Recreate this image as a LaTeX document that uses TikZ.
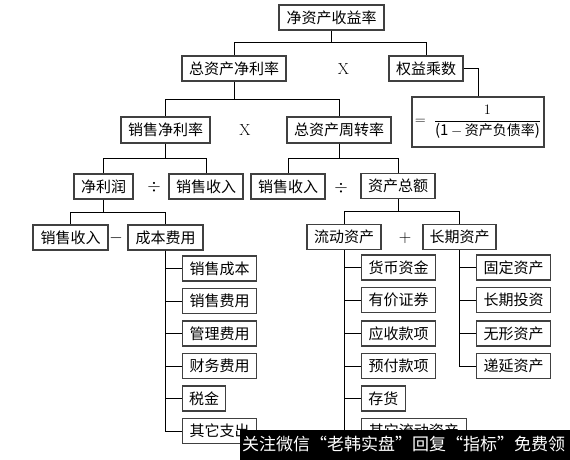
\documentclass[tikz,border=0pt]{standalone}
\usepackage{fontspec}
\usepackage{amsmath}
\newfontfamily\cjk{Noto Sans CJK SC}
\begin{document}
\begin{tikzpicture}[x=1pt,y=-1pt,
  box/.style={draw=black!75,line width=1.2pt,rectangle,minimum height=25pt,inner sep=0pt,fill=white,font=\cjk\fontsize{15}{15}\selectfont},
  conn/.style={draw=black,line width=1pt},
  op/.style={inner sep=0pt,font=\fontsize{16}{16}\selectfont}]
\useasboundingbox (0,0) rectangle (570,460);
\fill[white] (0,0) rectangle (570,460);
% level 0
\node[box,minimum width=105pt] (roe) at (331.5,17.5) {净资产收益率};
% level 1
\node[box,minimum width=104pt] (zczll) at (234,68.5) {总资产净利率};
\node[box,minimum width=74pt] (qycs) at (426,68.5) {权益乘数};
\node[op] (x1) at (343.5,69) {X};
\node[box,minimum width=132pt,minimum height=50pt] (frm) at (478,122)
  {\fontsize{15}{17}\selectfont $=\;\dfrac{1}{\mbox{(1\,$-$\,{\cjk\fontsize{14}{14}\selectfont 资产负债率})}}$};
% level 2
\node[box,minimum width=89pt,minimum height=26pt] (xsjll) at (165.5,130) {销售净利率};
\node[box,minimum width=104pt,minimum height=26pt] (zzczzl) at (339,130) {总资产周转率};
\node[op] (x2) at (245,130) {X};
% level 3
\node[box,minimum width=59pt] (jlr) at (103.5,186.5) {净利润};
\node[box,minimum width=74pt] (xssr1) at (206,186.5) {销售收入};
\node[op] (d1) at (154,187) {$\div$};
\node[box,minimum width=74pt] (xssr2) at (288,186.5) {销售收入};
\node[box,minimum width=74pt] (zcze) at (398,186) {资产总额};
\node[op] (d2) at (341,188) {$\div$};
% level 4
\node[box,minimum width=75pt] (xssr3) at (70.5,237.5) {销售收入};
\node[box,minimum width=75pt] (cbfy) at (165.5,237.5) {成本费用};
\node[op] (m1) at (116,238) {$-$};
\node[box,minimum width=74pt] (ldzc) at (344,237) {流动资产};
\node[box,minimum width=73pt] (cqzc) at (459.5,237) {长期资产};
\node[op] (p1) at (405,238) {$+$};
% cost column
\node[box,minimum width=74pt,anchor=west] (c1) at (182,268.5) {销售成本};
\node[box,minimum width=74pt,anchor=west] (c2) at (182,301) {销售费用};
\node[box,minimum width=74pt,anchor=west] (c3) at (182,333.5) {管理费用};
\node[box,minimum width=74pt,anchor=west] (c4) at (182,366) {财务费用};
\node[box,minimum width=43pt,anchor=west] (c5) at (182,398.5) {税金};
\node[box,minimum width=74pt,anchor=west] (c6) at (182,431) {其它支出};
% current assets column
\node[box,minimum width=74pt,anchor=west] (l1) at (361,267.5) {货币资金};
\node[box,minimum width=74pt,anchor=west] (l2) at (361,300) {有价证券};
\node[box,minimum width=74pt,anchor=west] (l3) at (361,333.5) {应收款项};
\node[box,minimum width=74pt,anchor=west] (l4) at (361,366) {预付款项};
\node[box,minimum width=43.5pt,anchor=west] (l5) at (361,398.5) {存货};
\node[box,minimum width=104.5pt,anchor=west] (l6) at (361,431) {其它流动资产};
% long-term assets column
\node[box,minimum width=74pt,anchor=west] (k1) at (476,267.5) {固定资产};
\node[box,minimum width=74pt,anchor=west] (k2) at (476,300) {长期投资};
\node[box,minimum width=74pt,anchor=west] (k3) at (476,333.5) {无形资产};
\node[box,minimum width=74pt,anchor=west] (k4) at (476,366) {递延资产};
% connectors
\draw[conn] (roe.south) -- (331.5,43) -| (zczll.north);
\draw[conn] (roe.south) -- (331.5,43) -| (qycs.north);
\draw[conn] (qycs.east) -| (frm.north);
\draw[conn] (zczll.south) -- (234,99) -| (xsjll.north);
\draw[conn] (zczll.south) -- (234,99) -| (zzczzl.north);
\draw[conn] (xsjll.south) -- (165.5,158) -| (jlr.north);
\draw[conn] (xsjll.south) -- (165.5,158) -| (xssr1.north);
\draw[conn] (zzczzl.south) -- (339,158) -| (xssr2.north);
\draw[conn] (zzczzl.south) -- (339,158) -| (zcze.north);
\draw[conn] (jlr.south) -- (103.5,212) -| (xssr3.north);
\draw[conn] (jlr.south) -- (103.5,212) -| (cbfy.north);
\draw[conn] (zcze.south) -- (398,211) -| (ldzc.north);
\draw[conn] (zcze.south) -- (398,211) -| (cqzc.north);
\foreach \c in {c1,c2,c3,c4,c5,c6} \draw[conn] (cbfy.south) |- (\c.west);
\foreach \c in {l1,l2,l3,l4,l5,l6} \draw[conn] (ldzc.south) |- (\c.west);
\foreach \c in {k1,k2,k3,k4} \draw[conn] (cqzc.south) |- (\c.west);
% watermark banner
\node[fill=black,minimum width=330pt,minimum height=30pt,inner sep=0pt,anchor=north west] (banner) at (240,430) {};
\node[text=white,font=\cjk\fontsize{17}{17}\selectfont,inner sep=0pt] (btext) at (403.5,444) {关注微信“老韩实盘”回复“指标”免费领};
\end{tikzpicture}
\end{document}
